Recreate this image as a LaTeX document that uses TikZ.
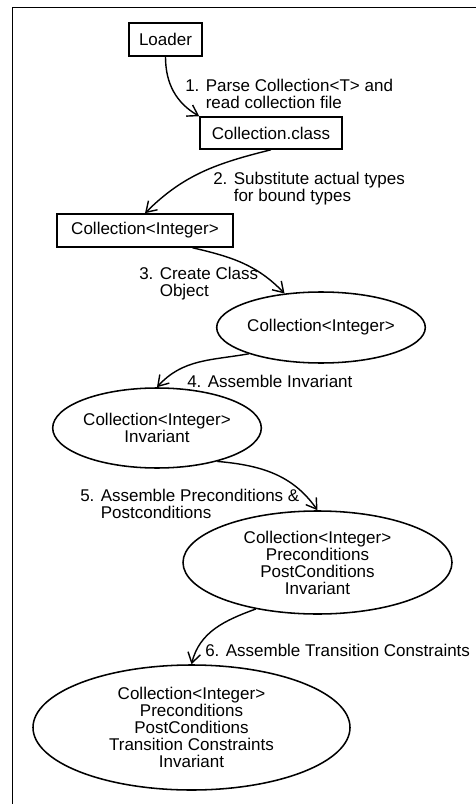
\documentclass[tikz,border=0pt]{standalone}
\usepackage{fontspec}
\setmainfont{Liberation Sans}
\usetikzlibrary{shapes.geometric,arrows.meta}

\begin{document}
\begin{tikzpicture}[
    every node/.style={font=\fontsize{12.1}{12.1}\selectfont},
    box/.style={draw,line width=1.1pt,inner sep=0pt},
    oval/.style={draw,ellipse,line width=1.1pt,inner sep=0pt,align=center},
    lbl/.style={anchor=west,inner sep=0pt,align=left},
    flow/.style={line width=1pt,-{Straight Barb[length=0.25cm,width=0.32cm]}}
]
\useasboundingbox (0,0) rectangle (11.9,-20.1);
\draw [line width=1.3pt] (0.3125,-20.1) -- (0.3125,-0.1875) -- (11.9,-0.1875);

\node [box,minimum width=1.825cm,minimum height=0.825cm] (loader) at (4.1375,-0.9875) {Loader};
\node [box,minimum width=3.55cm,minimum height=0.8cm] (cls) at (6.775,-3.325) {Collection.class};
\node [box,minimum width=4.4cm,minimum height=0.825cm] (inst) at (3.625,-5.7625) {Collection<Integer>};
\node [oval,minimum width=4.65cm,minimum height=1.775cm] (obj) at (8.025,-8.1875) {Collection<Integer>};
\node [oval,minimum width=5.2cm,minimum height=2cm] (inv) at (3.925,-10.7) {Collection<Integer>\\Invariant};
\node [oval,minimum width=6.725cm,minimum height=2.575cm] (pre) at (7.9375,-14.0625)
    {Collection<Integer>\\Preconditions\\PostConditions\\Invariant};
\node [oval,minimum width=7.925cm,minimum height=3.125cm] (trans) at (4.7875,-18.1875)
    {Collection<Integer>\\Preconditions\\PostConditions\\Transition Constraints\\Invariant};

\node [lbl] (parse) at (4.625,-2.35) {1. Parse Collection<T> and\\\hphantom{1. }read collection file};
\node [lbl] (subst) at (5.325,-4.725) {2. Substitute actual types\\\hphantom{2. }for bound types};
\node [lbl] (create) at (3.475,-7.1) {3. Create Class\\\hphantom{3. }Object};
\node [lbl] (asminv) at (4.675,-9.525) {4. Assemble Invariant};
\node [lbl] (asmpre) at (2.0,-12.5875) {5. Assemble Preconditions \&\\\hphantom{5. }Postconditions};
\node [lbl] (asmtrans) at (5.125,-16.25) {6. Assemble Transition Constraints};

\draw [flow] (loader.south) to [out=-90,in=150] (cls.north west);
\draw [flow] (cls.south) to [out=194,in=45] (inst.north);
\draw [flow] (inst.-20) to [out=-13,in=134] (obj.137);
\draw [flow] (obj.200) to [out=190,in=48] (inv.north);
\draw [flow] (inv.-29) to [out=-5,in=125] (pre.north);
\draw [flow] (pre.217) to [out=200,in=76] (trans.north);
\end{tikzpicture}
\end{document}
